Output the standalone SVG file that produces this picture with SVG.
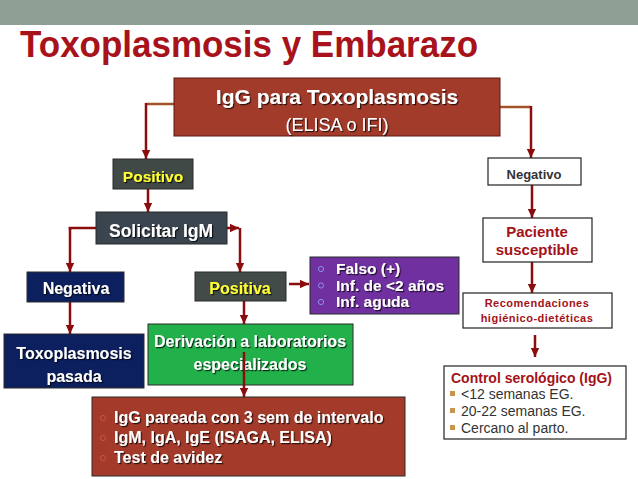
<svg xmlns="http://www.w3.org/2000/svg" width="638" height="479" viewBox="0 0 638 479">
<defs>
<filter id="sh" x="-10%" y="-30%" width="120%" height="160%">
<feDropShadow dx="1.2" dy="1.2" stdDeviation="0.4" flood-color="#000" flood-opacity="0.75"/>
</filter>
<marker id="ah" markerUnits="userSpaceOnUse" markerWidth="10" markerHeight="10" refX="9" refY="5" orient="auto">
<path d="M0,0.8 L9,5 L0,9.2 Z" fill="#8B0D0D"/>
</marker>
</defs>
<style>
text{font-family:"Liberation Sans",Arial,sans-serif}
.b{font-weight:bold}
.w{fill:#fff}
.y{fill:#FFFF33}
.s{filter:url(#sh)}
.c{text-anchor:middle}
.dk{stroke:#2a2a2a;stroke-width:1}
.wb{fill:#fff;stroke:#222;stroke-width:1.2}
.ln{fill:none;stroke:#8B0D0D;stroke-width:2.5}
.br{fill:none;stroke:#A4522A;stroke-width:2.5}
.arr{marker-end:url(#ah)}
.rd{fill:#A31218}
.bp{fill:none;stroke:#8E8EF0;stroke-width:1}
.bq{fill:none;stroke:#C85448;stroke-width:1}
</style>
<rect x="0" y="0" width="638" height="25" fill="#8E9F96"/>
<text x="20" y="57" font-size="36" class="b" fill="#A8121A" textLength="458" lengthAdjust="spacingAndGlyphs">Toxoplasmosis y Embarazo</text>

<g id="connectors">
<polyline class="br" points="174,104 146,104"/>
<line class="ln arr" x1="146" y1="103" x2="146" y2="159"/>
<polyline class="br" points="500,107 531,107"/>
<line class="ln arr" x1="531" y1="106" x2="531" y2="158"/>
<line class="ln arr" x1="148" y1="182" x2="148" y2="212"/>
<polyline class="ln" points="96,228 70,228 70,230"/>
<line class="ln arr" x1="70" y1="227" x2="70" y2="272"/>
<line class="ln arr" x1="227" y1="228" x2="239" y2="228"/>
<line class="ln arr" x1="240" y1="228" x2="240" y2="272"/>
<line class="ln arr" x1="289" y1="284" x2="309" y2="284"/>
<line class="ln arr" x1="70" y1="297" x2="70" y2="334"/>
<line class="ln arr" x1="244" y1="296" x2="244" y2="324"/>
<line class="ln arr" x1="532" y1="185" x2="532" y2="218"/>
<line class="ln arr" x1="532" y1="262" x2="532" y2="293"/>
<line class="ln arr" x1="535" y1="335" x2="535" y2="357"/>
</g>

<g id="igg">
<rect x="174" y="78" width="326" height="58" fill="#A33B2B" stroke="#5A1A12" stroke-width="1"/>
<text x="337" y="104" font-size="21" class="b w s c">IgG para Toxoplasmosis</text>
<text x="337" y="131" font-size="18" class="w s c">(ELISA o IFI)</text>
</g>

<g id="positivo">
<rect x="113" y="159" width="80" height="30" fill="#414947" class="dk"/>
<text x="153" y="182" font-size="15.5" class="b y s c">Positivo</text>
</g>

<g id="negativo">
<rect x="488" y="158" width="93" height="27" class="wb"/>
<text x="534" y="179" font-size="13" class="b c" fill="#333">Negativo</text>
</g>

<g id="solicitar">
<rect x="96" y="212" width="131" height="32" fill="#3B4550" class="dk"/>
<text x="161" y="237" font-size="17.5" class="b w s c">Solicitar IgM</text>
</g>

<g id="negativa">
<rect x="27" y="272" width="97" height="30" fill="#0C2060" class="dk"/>
<text x="76" y="294" font-size="16" class="b w s c">Negativa</text>
</g>

<g id="positiva">
<rect x="195" y="272" width="91" height="29" fill="#424B47" class="dk"/>
<text x="240" y="294" font-size="16" class="b y s c">Positiva</text>
</g>

<g id="dx">
<rect x="310" y="257" width="149" height="57" fill="#7030A0" class="dk"/>
<circle cx="321" cy="269" r="2.6" class="bp"/>
<circle cx="321" cy="285.5" r="2.6" class="bp"/>
<circle cx="321" cy="302" r="2.6" class="bp"/>
<text x="336" y="274" font-size="15.5" class="b w s">Falso (+)</text>
<text x="336" y="290.5" font-size="15.5" class="b w s">Inf. de &lt;2 años</text>
<text x="336" y="307" font-size="15.5" class="b w s">Inf. aguda</text>
</g>

<g id="paciente">
<rect x="483" y="218" width="109" height="44" class="wb"/>
<text x="537" y="237" font-size="15" class="b c rd">Paciente</text>
<text x="537" y="255" font-size="15" class="b c rd">susceptible</text>
</g>

<g id="recomendaciones">
<rect x="463" y="293" width="149" height="35" class="wb"/>
<text x="537" y="307" font-size="11" class="b c rd" letter-spacing="0.5">Recomendaciones</text>
<text x="537" y="322" font-size="11" class="b c rd" letter-spacing="0.5">higiénico-dietéticas</text>
</g>

<g id="pasada">
<rect x="4" y="334" width="140" height="54" fill="#0C1F5E" class="dk"/>
<text x="74" y="359" font-size="16" class="b w s c">Toxoplasmosis</text>
<text x="74" y="382" font-size="16" class="b w s c">pasada</text>
</g>

<g id="derivacion">
<rect x="148" y="324" width="205" height="61" fill="#22B04B" class="dk"/>
<text x="250" y="347" font-size="16" class="b w s c">Derivación a laboratorios</text>
<text x="250" y="370" font-size="16" class="b w s c">especializados</text>
</g>
<line class="ln arr" x1="244" y1="352" x2="244" y2="397"/>

<g id="pruebas">
<rect x="92" y="397" width="313" height="79" fill="#A33A2A" class="dk"/>
<circle cx="103" cy="418" r="2.6" class="bq"/>
<circle cx="103" cy="438" r="2.6" class="bq"/>
<circle cx="103" cy="458" r="2.6" class="bq"/>
<text x="114" y="423" font-size="16" class="b w s">IgG pareada con 3 sem de intervalo</text>
<text x="114" y="443" font-size="16" class="b w s">IgM, IgA, IgE (ISAGA, ELISA)</text>
<text x="114" y="463" font-size="16" class="b w s">Test de avidez</text>
</g>

<g id="control">
<rect x="444" y="366" width="182" height="73" class="wb"/>
<text x="451" y="383" font-size="14" class="b rd">Control serológico (IgG)</text>
<rect x="450" y="391" width="5" height="5" fill="#C8964A"/>
<rect x="450" y="408" width="5" height="5" fill="#C8964A"/>
<rect x="450" y="425" width="5" height="5" fill="#C8964A"/>
<text x="461" y="399" font-size="14" fill="#333">&lt;12 semanas EG.</text>
<text x="461" y="416" font-size="14" fill="#333">20-22 semanas EG.</text>
<text x="461" y="433" font-size="14" fill="#333">Cercano al parto.</text>
</g>
</svg>
